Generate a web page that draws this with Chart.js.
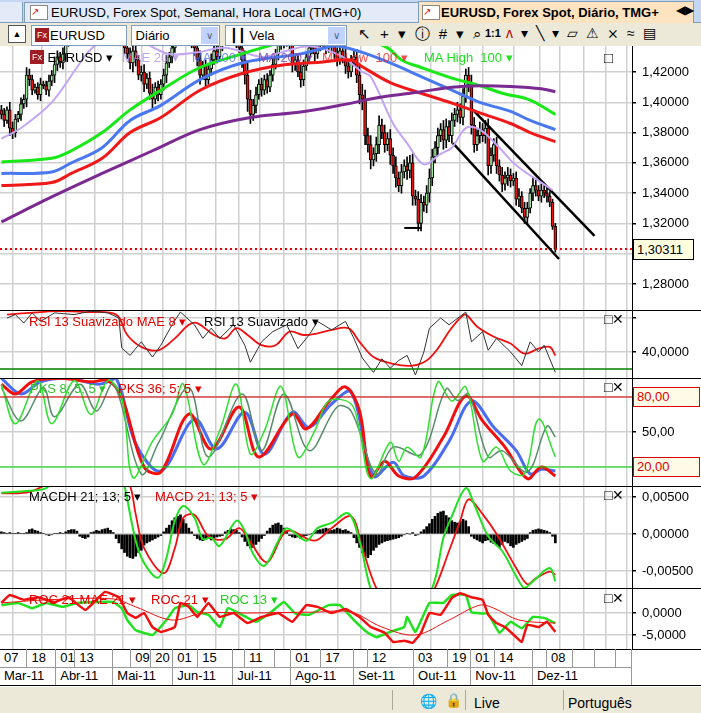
<!DOCTYPE html>
<html>
<head>
<meta charset="utf-8">
<script src="https://cdn.jsdelivr.net/npm/chart.js@4.4.1/dist/chart.umd.min.js"></script>
<style>
body{margin:0;width:701px;height:713px;overflow:hidden;background:#ece9d8;font-family:"Liberation Sans",Arial,sans-serif;font-size:13px;position:relative}
.abs{position:absolute;white-space:nowrap}
canvas{position:absolute;left:0}
.sep{position:absolute;left:0;width:701px;height:1px;background:#000}
.lbl{position:absolute;font-size:13px;white-space:nowrap}
.box{position:absolute;background:#fff;border:1px solid #7f9db9;height:19px;line-height:19px}
.dd{position:absolute;right:1px;top:1px;width:17px;height:17px;background:#c1d3fb;color:#4d6185;font-size:10px;text-align:center;line-height:17px}
.cell{position:absolute;border-right:1px solid #999;height:18px;line-height:18px;padding-left:4px;box-sizing:border-box;font-size:13px}
</style>
</head>
<body>
<!-- tabs -->
<div class="abs" style="left:0;top:0;width:701px;height:22px;background:#c5d6f3;border-bottom:1px solid #7f9db9"></div>
<div class="abs" style="left:0;top:2px;width:22px;height:20px;background:#e3ebf8;border-right:1px solid #7f9db9"></div>
<div class="abs" style="left:24px;top:2px;width:388px;height:19px;background:#e3ebf8;border:1px solid #7f9db9;border-bottom:none;line-height:19px;padding-left:26px;font-size:13px">EURUSD, Forex Spot, Semanal, Hora Local (TMG+0)</div>
<div class="abs" style="left:30px;top:5px;width:16px;height:13px;background:#fff;border:1px solid #888;color:#d00;font-size:10px;line-height:12px">&#x2197;</div>
<div class="abs" style="left:418px;top:1px;width:252px;height:21px;background:#fde3c0;border:1px solid #7f9db9;border-bottom:none;line-height:21px;padding-left:22px;font-size:13px;font-weight:bold;overflow:hidden">EURUSD, Forex Spot, Diário, TMG+</div>
<div class="abs" style="left:422px;top:5px;width:16px;height:13px;background:#fff;border:1px solid #888;color:#d00;font-size:10px;line-height:12px">&#x2197;</div>
<div class="abs" style="left:676px;top:3px;font-size:12px">&#9664;&#9654;</div>
<!-- toolbar -->
<div class="abs" style="left:0;top:23px;width:701px;height:23px;background:#ece9d8"></div>
<div class="abs" style="left:8px;top:25px;width:16px;height:16px;border:1px solid #555;background:#fff;font-size:9px;text-align:center;line-height:16px">&#9650;</div>
<div class="box" style="left:31px;top:25px;width:94px"><span style="display:inline-block;width:14px;height:14px;background:#a01c22;color:#fff;font-size:9px;line-height:14px;margin:2px 1px 0 3px;vertical-align:top;text-align:center">Fx</span>EURUSD</div>
<div class="box" style="left:131px;top:25px;width:87px">&nbsp;Diário<div class="dd">&#8744;</div></div>
<div class="box" style="left:225px;top:25px;width:120px">&nbsp;&#x2503;&#x2503; Vela<div class="dd">&#8744;</div></div>
<div class="abs" style="left:358px;top:25px;font-size:15px;letter-spacing:9px">&#x2196;+&#x25BE;&#x24D8;&#x0023;&#x25BE;&#x2315;</div>
<div class="abs" style="left:485px;top:27px;font-size:11px;font-weight:bold">1:1</div>
<div class="abs" style="left:506px;top:25px;font-size:14px;color:#b00;letter-spacing:8px">&#x028C;<span style="color:#000">&#x25BE;&#x2572;&#x25BE;&#x25B1;&#x26A0;&#x2A2F;&#x2248;&#x25A4;</span></div>
<div class="abs" style="left:0;top:46px;width:701px;height:640px;background:#fff"></div>

<canvas id="cMain" width="701" height="264" style="top:46px"></canvas>
<canvas id="cRsi" width="701" height="68" style="top:310px"></canvas>
<canvas id="cSto" width="701" height="108" style="top:378px"></canvas>
<canvas id="cMacd" width="701" height="102" style="top:486px"></canvas>
<canvas id="cRoc" width="701" height="61" style="top:588px"></canvas>
<div class="sep" style="top:310px"></div><div class="sep" style="top:378px"></div>
<div class="sep" style="top:486px"></div><div class="sep" style="top:588px"></div>
<div class="sep" style="top:649px"></div><div class="sep" style="top:667px;width:632px;background:#999"></div>
<div class="sep" style="top:685px"></div>
<div class="abs" style="left:631px;top:649px;width:1px;height:36px;background:#000"></div>
<div id="dates"></div>

<!-- legends -->
<div class="lbl" style="left:30px;top:50px"><span style="display:inline-block;width:14px;height:14px;background:#a01c22;color:#fff;font-size:9px;line-height:14px;text-align:center;vertical-align:top">Fx</span> EURUSD &#x25BE;</div>
<div class="lbl" style="left:122px;top:50px;color:#b090e8;opacity:.8">MAE 20 &#x25BE;</div>
<div class="lbl" style="left:192px;top:50px;color:#5070f0;opacity:.8">MA 100 &#x25BE;</div>
<div class="lbl" style="left:258px;top:50px;color:#8040a0;opacity:.8">MA 200 &#x25BE;</div>
<div class="lbl" style="left:322px;top:50px;color:#f02020;opacity:.8">MA Low&nbsp; 100 &#x25BE;</div>
<div class="lbl" style="left:424px;top:50px;color:#20e020">MA High&nbsp; 100 &#x25BE;</div>
<div class="lbl" style="left:29px;top:314px;color:#e00000">RSI 13 Suavizado MAE 8 &#x25BE;</div>
<div class="lbl" style="left:204px;top:314px;color:#000">RSI 13 Suavizado &#x25BE;</div>
<div class="lbl" style="left:30px;top:381px;color:#30c030">PKS 8; 5; 5 &#x25BE;</div>
<div class="lbl" style="left:118px;top:381px;color:#e00000">PKS 36; 5; 5 &#x25BE;</div>
<div class="lbl" style="left:29px;top:489px;color:#000">MACDH 21; 13; 5 &#x25BE;</div>
<div class="lbl" style="left:155px;top:489px;color:#e00000">MACD 21; 13; 5 &#x25BE;</div>
<div class="lbl" style="left:29px;top:592px;color:#e00000">ROC 21 MAE 21 &#x25BE;</div>
<div class="lbl" style="left:151px;top:592px;color:#e00000">ROC 21 &#x25BE;</div>
<div class="lbl" style="left:220px;top:592px;color:#20d020">ROC 13 &#x25BE;</div>
<div class="lbl" style="left:604px;top:49px;font-size:15px">&#x25A1;</div>
<div class="lbl" style="left:604px;top:311px;font-size:14px">&#x25A1;&#x2715;</div>
<div class="lbl" style="left:604px;top:379px;font-size:14px">&#x25A1;&#x2715;</div>
<div class="lbl" style="left:604px;top:487px;font-size:14px">&#x25A1;&#x2715;</div>
<div class="lbl" style="left:604px;top:590px;font-size:14px">&#x25A1;&#x2715;</div>
<div id="extras"></div>

<!-- status bar -->
<div class="abs" style="left:0;top:686px;width:701px;height:27px;background:#ece9d8;border-top:1px solid #fff"></div>
<div class="abs" style="left:392px;top:690px;width:1px;height:20px;background:#aca899"></div>
<div class="abs" style="left:420px;top:693px;color:#2a6;font-size:14px">&#x1F310;</div>
<div class="abs" style="left:445px;top:692px;color:#3a3;font-size:14px">&#x1F512;</div>
<div class="abs" style="left:465px;top:690px;width:1px;height:20px;background:#aca899"></div>
<div class="abs" style="left:474px;top:695px;font-size:14px">Live</div>
<div class="abs" style="left:563px;top:690px;width:1px;height:20px;background:#aca899"></div>
<div class="abs" style="left:568px;top:695px;font-size:14px">Português</div>

<script>
// ---- price data (daily candles, Mar-11 .. Dec-11) ----
var closes = [1.392,1.388,1.395,1.383,1.380,1.389,1.392,1.399,1.402,1.418,
1.415,1.408,1.410,1.405,1.412,1.411,1.408,1.414,1.418,1.425,
1.430,1.426,1.432,1.440,1.445,1.443,1.448,1.447,1.452,1.460,
1.465,1.462,1.470,1.468,1.474,1.480,1.478,1.485,1.482,1.478,
1.472,1.462,1.450,1.444,1.436,1.432,1.426,1.434,1.428,1.418,
1.420,1.412,1.416,1.406,1.402,1.410,1.405,1.412,1.418,1.426,
1.430,1.436,1.442,1.448,1.452,1.445,1.450,1.444,1.440,1.436,
1.428,1.418,1.424,1.415,1.422,1.428,1.434,1.430,1.438,1.442,
1.445,1.450,1.447,1.444,1.440,1.436,1.428,1.418,1.402,1.392,
1.398,1.405,1.412,1.408,1.415,1.410,1.418,1.425,1.432,1.438,
1.442,1.440,1.445,1.438,1.425,1.428,1.420,1.415,1.424,1.430,
1.436,1.440,1.432,1.438,1.444,1.440,1.436,1.442,1.437,1.432,
1.428,1.434,1.430,1.424,1.420,1.428,1.430,1.418,1.405,1.402,
1.378,1.372,1.362,1.366,1.372,1.385,1.380,1.372,1.376,1.365,
1.358,1.350,1.345,1.354,1.358,1.355,1.360,1.338,1.336,1.320,
1.334,1.332,1.340,1.350,1.364,1.370,1.378,1.382,1.375,1.384,
1.378,1.388,1.392,1.395,1.390,1.404,1.418,1.412,1.385,1.372,
1.378,1.382,1.378,1.383,1.358,1.365,1.372,1.358,1.352,1.346,
1.350,1.352,1.348,1.350,1.336,1.338,1.330,1.324,1.330,1.340,
1.345,1.342,1.338,1.342,1.340,1.338,1.334,1.318,1.303];
var firstOpen = 1.395;
// wick length per candle, in 0.001
var wick = [3,4,2,5,4,3,2,4,3,5,4,3,2,3,4,2,3,4,3,5,4,3,4,5,3,4,3,2,4,3,
3,4,2,3,4,3,5,4,3,4,5,4,3,5,4,3,4,6,4,3,4,5,3,4,6,3,4,3,4,5,
3,4,3,4,3,5,4,3,4,5,4,6,3,4,3,4,3,4,3,4,3,4,5,3,4,3,5,6,8,6,
4,5,3,4,3,4,3,4,3,4,3,4,3,4,5,4,3,5,4,3,3,4,5,3,4,3,4,3,4,3,
4,3,4,5,4,3,4,5,6,7,6,5,6,4,5,6,4,5,4,6,5,6,4,5,4,6,5,6,4,5,
5,4,5,6,5,4,5,4,6,5,4,5,4,5,4,5,4,5,6,5,4,5,4,5,6,5,4,5,4,5,
4,5,4,3,4,5,3,4,4,3,5,4,3,4,3,4,3,2,2];
// moving averages [index, price]
var maeX = [0,7,18,27,32,40,50,60,70,80,93,100,110,121,129,132,140,145,151,157,161,166,171,178,183,188,193,197];
var maeY = [1.376,1.383,1.400,1.423,1.435,1.445,1.440,1.432,1.433,1.436,1.430,1.433,1.437,1.431,1.420,1.417,1.386,1.373,1.359,1.366,1.370,1.383,1.382,1.370,1.360,1.353,1.347,1.342];
var maHighX = [0,18,25,36,46,57,71,86,95,110,125,138,143,150,161,171,179,189,198];
var maHighY = [1.3606,1.363,1.368,1.380,1.395,1.408,1.423,1.432,1.437,1.445,1.445,1.436,1.428,1.423,1.416,1.411,1.406,1.4015,1.392];
var ma100X = [0,18,25,36,46,57,71,86,107,118,121,129,139,150,161,171,182,189,198];
var ma100Y = [1.353,1.354,1.360,1.370,1.388,1.398,1.415,1.426,1.432,1.437,1.437,1.433,1.426,1.417,1.408,1.400,1.394,1.388,1.382];
var maLowX = [0,18,25,36,46,57,71,86,100,114,125,129,139,150,161,171,182,189,198];
var maLowY = [1.345,1.347,1.353,1.363,1.380,1.390,1.408,1.419,1.4245,1.4265,1.428,1.4235,1.413,1.406,1.3995,1.393,1.386,1.380,1.374];
var ma200X = [0,18,36,54,71,89,107,121,136,150,161,171,182,193,198];
var ma200Y = [1.321,1.3375,1.353,1.368,1.382,1.390,1.3936,1.398,1.4035,1.407,1.410,1.411,1.4105,1.409,1.407];
var chanUpX = [168,212], chanUpY = [1.396,1.3117];
var chanLoX = [161.4,199.3], chanLoY = [1.373,1.2965];
var suppX = [144,150], suppY = [1.317,1.317];
var lastPrice = 1.30311;
var priceTicks = [1.28,1.30,1.32,1.34,1.36,1.38,1.40,1.42];

// ---- RSI ----
var rsiX = [2,5,8,11,14,19,26,32,38,42,43,46,50,54,57,61,64,69,72,75,78,83,87,89,93,97,102,106,110,113,118,123,126,129,133,136,139,142,145,148,151,153,157,160,166,168,172,174,177,182,186,189,192,194,198];
var rsiY = [60,62,57,63,58,63,62,64,63,60,42.4,38,46,37,44,56,63.5,56,48,54,48,56,44,34,46,52,56,42,50,58,53,58,48,36.5,28,36,30.5,35,38,26.5,40,54,60,56,63.5,46,52,41,48,40,32,46,40,44,28];
var rsiMaX = [2,10,20,30,41,45,50,56,62,67,70,76,80,84,88,93,98,103,108,113,118,124,128,133,140,147,152,156,160,164,166,170,176,182,187,192,196,198];
var rsiMaY = [62,63,64,63.5,62,50,43,41,48,56,57,50,48,54,50,44,44,52,50,51,53,54,46,37,33,32,35,42,52,60,62,55,49,45,39,42,43,38];

// ---- Stochastic ----
var kFastX = [0,5,13,18,26,32,38,43,47,54,61,65,72,78,84,89,94,100,106,112,117,125,128,132,139,142,145,150,156,161,166,172,177,182,187,192,198];
var kFastY = [91,57,94,57,94,65,94,80,11,42,65,91,22.5,51,91,31,51,89,28.6,51,76.5,74,51,10,41,25,37,28.6,93,76.5,88.6,25,37,16.6,14,61,28.6];
var dFastX = [0,7,15,19,28,34,40,50,56,67,74,86,93,101,110,120,125,134,140,150,159,163,167,174,179,188,195,198];
var dFastY = [88,59.5,88,63,91,68,91,14,40,88,28.6,82.6,34,82.6,34,71.5,68,14,37,31,87,77,82.6,28.6,34,15.7,55,45.7];
var kSlowX = [0,5,11,21,32,38,43,51,57,67,75,85,92,104,109,117,123,128,132,137,142,148,158,166,172,180,188,193,198];
var kSlowY = [91,82.6,93,96,93,94,80,20,15.7,65.4,35.4,71.5,28.6,65.4,52.6,75.7,88.6,68,11.4,25,12.3,11.4,45.7,81,59.5,37,10,20,12.3];
var dSlowX = [0,7,14,24,35,41,48,57,69,77,87,94,104,110,118,125,133,140,144,151,160,168,176,184,189,193,198];
var dSlowY = [96,82.6,93,96,91,96,40,16.6,61,35.4,67,31,67,54,74,84,12.3,24,12.3,12.3,42,76.5,54,34,14,18,16.6];

// ---- MACD (histogram in 0.0001) ----
var macdHist = [3,2,1,2,1,1,2,1,1,2, 6,7,5,4, 2,1,-1,-2,-1,1,1, 2,1,3, 5,6,6,4, -3,-5,-6,-4, 2,3,5,4, 6,7,8,5, 2,
-6,-12,-20,-25, -30,-32,-33,-30,-25,-22, -15,-12,-10,-8,-6,-4,-2, 3,8,12, 18,22,24,26,20,14, 8,3,-2,
-6,-8,-9,-7,-6,-8,-5,-4,-3,-2, 3,5,7,6,5,2, -4,-10,-16,-19,-18,-14,-10,-6, -2,4,8,12, 14,15,12,8,4,
-2,-4,-5,-4,-6,-3,-2,-1,1, 3,5,6,7,8,7,5,6,8,7,5,6,4, 2,-5,-12,-18,-25,-30,-32,-28,-22,-18,-14,
-12,-10,-9,-8,-7,-6,-5,-3, -1,1,0,2,-2,-1, 3,6,10,14,20,24,28,30,31,25,22, 18,16,15,17,20,18,10,
-3,-6,-8,-10,-12,-9,-8,-11, -13,-15,-18,-14,-10,-12,-16,-18,-14,-12,-10,-8,-6, 2,5,6,7,6,5,4,2, -3,-12];
var macdX = [0,8,16,20,30,42,44,48,51,56,59,62,65,69,72,75,78,84,87,90,94,99,102,109,113,118,124,128,132,136,142,148,154,158,161,166,169,174,179,184,187,190,196,198];
var macdY = [0.0056,0.0058,0.0062,0.008,0.011,0.009,0.0065,-0.0009,-0.0039,-0.0059,-0.0032,0.0018,0.0038,0.0022,-0.0007,-0.0005,-0.0016,0.0018,0.0004,-0.0027,-0.0043,-0.0009,0.0008,-0.0009,0.0008,0.0015,0.0028,-0.0009,-0.0074,-0.010,-0.011,-0.0095,-0.0073,-0.0005,0.0024,0.0062,0.004,-0.0003,-0.0023,-0.0057,-0.0073,-0.0064,-0.0046,-0.0064];
var sigX = [0,10,20,40,46,48,51,58,62,65,69,74,80,85,89,95,102,112,118,125,129,134,140,150,155,160,164,167,172,177,184,188,191,196,198];
var sigY = [0.0055,0.0057,0.0075,0.011,0.0065,0.0027,-0.0019,-0.0053,-0.0019,0.0022,0.0026,-0.0003,-0.0007,0.0008,-0.0011,-0.0038,0.0004,-0.0009,0.0008,0.0024,-0.0019,-0.0073,-0.0105,-0.0105,-0.0073,-0.0023,0.0018,0.0047,0.0027,0,-0.0046,-0.0068,-0.006,-0.0051,-0.0055];

// ---- ROC ----
var roc21X = [0,3,8,13,19,24,30,37,42,45,48,51,54,57,62,64,67,70,74,78,83,88,93,99,104,109,113,118,123,128,132,137,140,144,147,150,153,157,161,164,168,172,174,177,180,184,186,188,192,195,198];
var roc21Y = [2.3,4.1,3,3.6,2.5,3.6,0.7,4.8,3.6,0,-1.1,0,-3.2,-4.3,-3.2,2.3,1.4,-0.9,2.3,-0.9,0,-2.3,-0.9,0,-2,1.8,1.4,0,0.9,-0.9,-3.2,-4.5,-6.6,-6.3,-6.8,-4.5,0,-0.4,3.4,4.5,3.6,3,-0.4,-2.3,-3.2,-5.5,-6.6,-2.7,-3.2,-2,-4.3];
var roc13X = [0,6,11,16,22,27,34,40,43,45,48,54,59,62,67,70,74,78,81,86,91,96,101,105,110,117,121,126,131,134,139,144,145,148,153,158,161,166,168,172,174,178,182,186,190,194,198];
var roc13Y = [1.8,2.3,1.1,2.3,1.4,2.3,2.5,2.5,1.1,-1.6,-3.9,-5,-1.6,1.1,1.8,0.2,-0.4,-3.2,1.1,-0.4,-2,0,2.5,-0.1,-0.4,1.8,1.8,-1.6,-4.5,-5.5,-4.3,-3.2,-0.9,-4.3,2.3,2.3,4.1,4.1,0.2,-0.1,-0.1,-4.5,-2,-3.5,-0.9,-1.1,-2.3];
var rocMaX = [0,16,40,48,61,72,88,112,125,136,148,160,171,176,185,198];
var rocMaY = [2.3,3,3.2,1.4,-1.6,0,0,0.2,0.2,-3.2,-5,-1.6,1.8,1.1,-1.6,-2.3];

// ---- time axis ----
var gridIdx = [9.3,19.6,26.4,40,46.4,53.6,61.4,70.4,82.9,87.1,97.9,103.6,114.3,126,131,147.5,159.6,167.9,176.4,190,195,204.3,212.1,219.6];
var dayCells = [-0.5,9.3,19.6,26.4,40,46.4,53.6,61.4,70.4,82.9,87.1,97.9,103.6,114.3,126,131,147.5,159.6,167.9,176.4,190,195,204.3,212.1,219.6,225.4];
var dayText = ['07','18','01','13','','09','20','01','15','','11','','01','17','','12','03','19','01','14','','08','','',''];
var monthCells = [-0.5,19.6,40,61.4,82.9,103.6,126,147.5,167.9,190,225.4];
var monthText = ['Mar-11','Abr-11','Mai-11','Jun-11','Jul-11','Ago-11','Set-11','Out-11','Nov-11','Dez-11'];
var X_MIN = -0.5, X_MAX = 225.4;

function pts(xs, ys){ return xs.map(function(x,i){ return {x:x, y:ys[i]}; }); }
function line(data, color, w, extra){
  return Object.assign({type:'line', data:data, borderColor:color, borderWidth:w, pointRadius:0, tension:0.35, order:1}, extra||{});
}
function comma(v, d){ return v.toFixed(d).replace('.', ','); }

function panel(id, datasets, ymin, ymax, ticks, fmt, showTick){
  return new Chart(document.getElementById(id), {
    type:'bar',
    data:{datasets:datasets},
    options:{
      responsive:false, animation:false, events:[],
      layout:{padding:0},
      plugins:{legend:{display:false}, tooltip:{enabled:false}},
      scales:{
        x:{type:'linear', min:X_MIN, max:X_MAX, offset:false,
          ticks:{display:false}, grid:{color:'#cfcfcf', drawTicks:false, lineWidth:1.5}, border:{display:false},
          afterBuildTicks:function(s){ s.ticks = gridIdx.map(function(v){ return {value:v}; }); },
          afterFit:function(s){ s.height = 0; s.paddingLeft = 0; s.paddingRight = 0; }},
        y:{position:'right', min:ymin, max:ymax,
          ticks:{color:'#000', font:{family:'Liberation Sans', size:13}, padding:6,
            callback:function(v){ return showTick(v) ? fmt(v) : ''; }},
          grid:{color:'#cfcfcf', lineWidth:1.5, tickColor:'#000', tickLength:4},
          border:{color:'#000', width:1},
          afterBuildTicks:function(s){ s.ticks = ticks.map(function(v){ return {value:v}; }); },
          afterFit:function(s){ s.width = 69; s.paddingTop = 0; s.paddingBottom = 0; }}
      }
    }
  });
}

// main price panel
var opens = closes.map(function(c,i){ return i ? closes[i-1] : firstOpen; });
var bodies = closes.map(function(c,i){ return {x:i, y:[opens[i], c]}; });
var wicks = closes.map(function(c,i){
  return {x:i, y:[Math.min(opens[i],c) - wick[i]/1000, Math.max(opens[i],c) + wick[i]/1000]};
});
var bodyColors = closes.map(function(c,i){ return c >= opens[i] ? '#9ee89e' : '#f01010'; });
var full = [X_MIN, X_MAX];

var mainChart = panel('cMain', [
  {type:'bar', data:wicks, backgroundColor:'#000', barThickness:1, grouped:false, order:5},
  {type:'bar', data:bodies, backgroundColor:bodyColors, borderColor:'#000', borderWidth:1, borderSkipped:false, barThickness:3, grouped:false, order:4},
  line(pts(ma200X, ma200Y), '#7a2a90', 3),
  line(pts(maLowX, maLowY), '#f01818', 3),
  line(pts(ma100X, ma100Y), '#4a78f0', 3),
  line(pts(maHighX, maHighY), '#18e818', 3),
  line(pts(maeX, maeY), '#c4a4f4', 2),
  line(pts(chanUpX, chanUpY), '#000', 2.5, {tension:0}),
  line(pts(chanLoX, chanLoY), '#000', 2.5, {tension:0}),
  line(pts(suppX, suppY), '#000', 2, {tension:0}),
  line(pts(full, [lastPrice, lastPrice]), '#f00000', 2, {tension:0, borderDash:[2,3]})
], 1.2628, 1.4372, priceTicks, function(v){ return comma(v,5); }, function(){ return true; });

var rsiChart = panel('cRsi', [
  line(pts(full, [30,30]), '#008000', 1.5, {tension:0}),
  line(pts(rsiX, rsiY), '#333', 1, {tension:0}),
  line(pts(rsiMaX, rsiMaY), '#f01010', 1.8)
], 24.7, 64.7, [40,60], function(v){ return comma(v,4); }, function(v){ return v === 40; });

var stoChart = panel('cSto', [
  line(pts(full, [80,80]), '#e00000', 1.2, {tension:0}),
  line(pts(full, [20,20]), '#00e000', 1.2, {tension:0}),
  line(pts(kFastX, kFastY), '#30e030', 1.5),
  line(pts(dFastX, dFastY), '#5a8c6c', 1.5),
  line(pts(kSlowX, kSlowY), '#f01010', 3),
  line(pts(dSlowX, dSlowY), '#4a6cf0', 3)
], 3.7, 96.3, [20,50,80], function(v){ return comma(v,2); }, function(v){ return v === 50; });

var histData = macdHist.map(function(v,i){ return {x:i, y:v/10000}; });
var macdChart = panel('cMacd', [
  {type:'bar', data:histData, backgroundColor:'#000', barThickness:2, grouped:false, order:5},
  line(pts(macdX, macdY), '#20e020', 2),
  line(pts(sigX, sigY), '#f01010', 1.8)
], -0.0073, 0.0065, [-0.005,0,0.005], function(v){ return comma(v,5); }, function(){ return true; });

var rocChart = panel('cRoc', [
  line(pts(rocMaX, rocMaY), '#f01010', 1),
  line(pts(roc21X, roc21Y), '#f01010', 2.5, {tension:0.1}),
  line(pts(roc13X, roc13Y), '#20e020', 2.5, {tension:0.1})
], -8.2, 5.7, [-5,0], function(v){ return comma(v,4); }, function(){ return true; });

// date rows, placed with the library's x scale
var xs = rocChart.scales.x;
var html = '';
function cells(bounds, texts, top){
  for (var i = 0; i < texts.length; i++){
    var l = xs.getPixelForValue(bounds[i]), r = xs.getPixelForValue(bounds[i+1]);
    html += '<div class="cell" style="left:'+l+'px;top:'+top+'px;width:'+(r-l)+'px">'+texts[i]+'</div>';
  }
}
cells(dayCells, dayText, 649);
cells(monthCells, monthText, 667);
document.getElementById('dates').innerHTML = html;

// threshold boxes and last price tag
var ys = stoChart.scales.y, ex = '';
[80,20].forEach(function(v){
  ex += '<div class="abs" style="left:633px;top:'+(378+ys.getPixelForValue(v)-10)+'px;width:62px;height:18px;line-height:18px;background:#fffbe6;border:1px solid #e00000;color:#e00000;padding-left:3px">'+comma(v,2)+'</div>';
});
var py = mainChart.scales.y.getPixelForValue(lastPrice);
ex += '<div class="abs" style="left:633px;top:'+(46+py-10)+'px;width:56px;height:19px;line-height:19px;background:#ffffe0;border:1px solid #000;padding-left:3px">'+comma(lastPrice,5)+'</div>';
document.getElementById('extras').innerHTML = ex;
</script>
</body>
</html>
